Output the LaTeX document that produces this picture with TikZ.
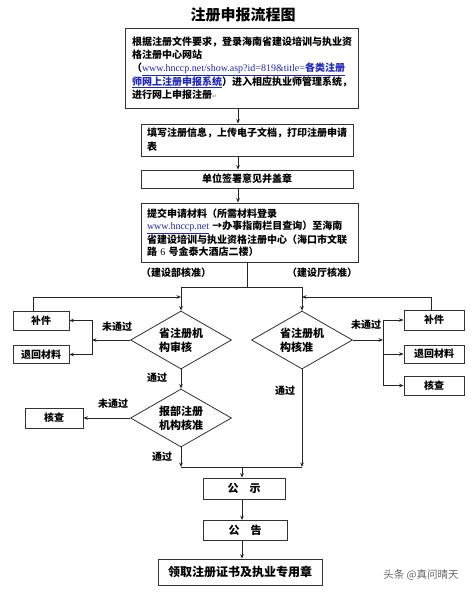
\documentclass[tikz,border=0pt]{standalone}
\usepackage{fontspec}
\setmainfont{Noto Sans CJK SC}
\newfontfamily\lser{Liberation Serif}
\newfontfamily\dvs{DejaVu Sans}
\usetikzlibrary{arrows.meta,shapes.geometric}
\definecolor{urlblue}{RGB}{30,40,190}
\newcommand{\myurl}[1]{\textcolor{urlblue}{\underline{#1}}}
\begin{document}
\begin{tikzpicture}[x=1pt,y=-1pt,
  line width=0.7pt,
  box/.style={draw=black!80,line width=0.8pt,inner sep=0pt,font=\fontsize{10}{13.3}\selectfont\bfseries},
  dia/.style={diamond,draw=black!80,line width=0.8pt,inner sep=0pt,aspect=1.75,minimum width=101pt,minimum height=58pt,font=\fontsize{11}{14}\selectfont\bfseries,align=left},
  arr/.style={draw=black!85,-{Stealth[length=4.5pt,width=3.6pt]}},
  con/.style={draw=black!85},
  lbl/.style={font=\fontsize{10}{12}\selectfont\bfseries,inner sep=0pt},
]
\useasboundingbox (0,0) rectangle (476,600);
\fill[white] (0,0) rectangle (476,600);

\node[font=\fontsize{15}{18}\selectfont\bfseries] (title) at (243,15) {注册申报流程图};

\node[box,minimum width=233pt,minimum height=80pt,text width=219pt,align=left] (b1) at (241.5,68)
 {根据注册文件要求，登录海南省建设培训与执业资\\
  格注册中心网站\\
  （\myurl{{\lser\mdseries www.hnccp.net/show.asp?id=819\&title=}各类注册}\\
  \myurl{师网上注册申报系统}）进入相应执业师管理系统，\\
  进行网上申报注册{\dvs\mdseries\fontsize{6}{6}\selectfont\textcolor{black!45}{↵}}};

\node[box,minimum width=212pt,minimum height=32pt,text width=200pt,align=left,font=\fontsize{10}{14}\selectfont\bfseries] (b2) at (247,140)
 {填写注册信息，上传电子文档，打印注册申请\\表};

\node[box,minimum width=212pt,minimum height=18pt] (b3) at (247,179) {单位签署意见并盖章};

\node[box,minimum width=217pt,minimum height=59pt,text width=205pt,align=left,font=\fontsize{10}{12}\selectfont\bfseries] (b4) at (249.5,232.5)
 {提交申请材料（所需材料登录\\
  \myurl{{\lser\mdseries www.hnccp.net}} →办事指南栏目查询）至海南\\
  省建设培训与执业资格注册中心（海口市文联\\
  路 {\lser\mdseries 6} 号金泰大酒店二楼）};

\node[lbl] (lab1) at (176,273) {（建设部核准）};
\node[lbl] (lab2) at (322,273) {（建设厅核准）};

\node[dia] (d1) at (181,340) {省注册机\\构审核};
\node[dia] (d2) at (302,340) {省注册机\\构核准};
\node[dia] (d3) at (181,418) {报部注册\\机构核准};

\node[box,minimum width=56pt,minimum height=19pt] (lb1) at (41,320.5) {补件};
\node[box,minimum width=56pt,minimum height=18pt] (lb2) at (41,354.5) {退回材料};
\node[box,minimum width=58pt,minimum height=20pt] (lk) at (54,418) {核查};

\node[box,minimum width=60pt,minimum height=20pt] (rb1) at (434,320) {补件};
\node[box,minimum width=60pt,minimum height=18pt] (rb2) at (434,354) {退回材料};
\node[box,minimum width=60pt,minimum height=19pt] (rb3) at (434,385.5) {核查};

\node[box,minimum width=82pt,minimum height=21pt,font=\fontsize{11}{13}\selectfont\bfseries] (gs) at (244,488.5) {公\hspace{1em}示};
\node[box,minimum width=84pt,minimum height=20pt,font=\fontsize{11}{13}\selectfont\bfseries] (gg) at (245,530.5) {公\hspace{1em}告};
\node[box,minimum width=164pt,minimum height=26pt,font=\fontsize{12}{14}\selectfont\bfseries] (lq) at (240,572) {领取注册证书及执业专用章};

\node[lbl] (nf1) at (117,327) {未通过};
\node[lbl] (ps1) at (157,378) {通过};
\node[lbl] (nf3) at (113,404) {未通过};
\node[lbl] (ps3) at (162,457) {通过};
\node[lbl] (nf2) at (366,325) {未通过};
\node[lbl] (ps2) at (285,391) {通过};

\node[font=\fontsize{10.5}{12}\selectfont,text=black!60,inner sep=0pt] (wm) at (421,575) {头条 @真问晴天};

\coordinate (xa) at (238,0);
\coordinate (xb) at (247,0);
\coordinate (xc) at (242,0);
\coordinate (sp) at (247,287);
\coordinate (spl) at (181,287);
\coordinate (spr) at (302,287);
\coordinate (lj) at (92,340);
\coordinate (ll) at (181,297);
\coordinate (rj) at (383,340);
\coordinate (rl) at (302,297);
\coordinate (ml) at (181,467);
\coordinate (mr) at (302,467);

\draw[arr] (xa|-b1.south) -- (xa|-b2.north);
\draw[arr] (xa|-b2.south) -- (xa|-b3.north);
\draw[arr] (xa|-b3.south) -- (xa|-b4.north);
\draw[con] (xb|-b4.south) -- (sp);
\draw[con] (spl) -- (spr);
\draw[arr] (spl) -- (d1.north);
\draw[arr] (spr) -- (d2.north);

\draw[arr] (d1.west) -- (lj);
\draw[arr] (lj) |- (lb1.east);
\draw[arr] (lj) |- (lb2.east);
\draw[arr] ([xshift=-8pt]lb1.north) |- (ll);

\draw[arr] (d2.east) -- (rj);
\draw[arr] (rj) |- (rb1.west);
\draw[arr] (rj) |- (rb2.west);
\draw[arr] (rj) |- (rb3.west);
\draw[arr] ([xshift=-3pt]rb1.north) |- (rl);

\draw[arr] (d1.south) -- (d3.north);
\draw[arr] (d3.west) -- (lk.east);
\draw[arr] (d3.south) -- (ml);
\draw[arr] (d2.south) -- (mr);
\draw[con] (ml) -- (mr);
\draw[arr] (xc|-ml) -- (xc|-gs.north);
\draw[arr] (xc|-gs.south) -- (xc|-gg.north);
\draw[arr] (xc|-gg.south) -- (xc|-lq.north);
\end{tikzpicture}
\end{document}
